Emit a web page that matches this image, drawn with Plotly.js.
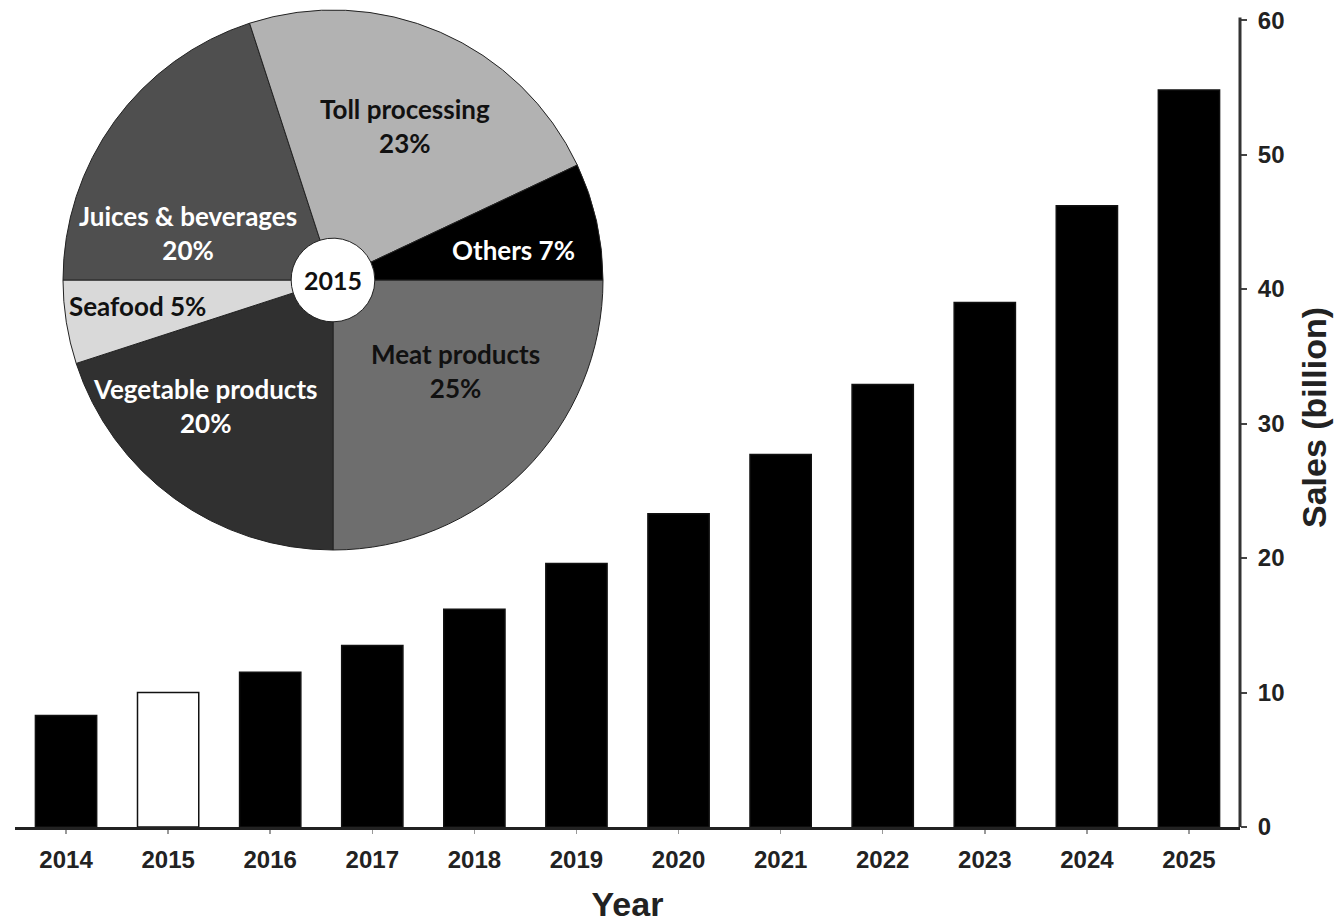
<!DOCTYPE html>
<html>
<head>
<meta charset="utf-8">
<script src="https://cdn.plot.ly/plotly-3.0.1.min.js"></script>
<style>html,body{margin:0;padding:0;background:#fff}#chart{width:1340px;height:923px}</style>
</head>
<body>
<div id="chart"></div>
<script>
// ---- data ----
const years = ["2014","2015","2016","2017","2018","2019","2020","2021","2022","2023","2024","2025"];
const sales = [8.3, 10.0, 11.5, 13.5, 16.2, 19.6, 23.3, 27.7, 32.9, 39.0, 46.2, 54.8];
const highlightYear = "2015";

const pieLabels = ["Meat products","Vegetable products","Seafood","Juices & beverages","Toll processing","Others"];
const pieShares = [25, 20, 5, 20, 23, 7];
const pieTitle = "2015";

// ---- styles ----
const pieColors = ["#6e6e6e","#303030","#d9d9d9","#4f4f4f","#b2b2b2","#000000"];
const pieTextColors = ["#111","#fff","#111","#fff","#111","#fff"];
const pieTwoLine = [true, true, false, true, true, false];
// label anchor positions in pixels (x, y) on the page
const pieLabelPos = [[455,371],[205,406],[137,306],[188,233],[405,126],[513,250]];

const W = 1340, H = 923;
const M = {l: 15, r: 100, t: 8, b: 96};
const pw = W - M.l - M.r, ph = H - M.t - M.b;
const toPX = px => (px - M.l) / pw;
const toPY = py => (H - M.b - py) / ph;

const fontFam = "Liberation Sans, Arial, sans-serif";
const pieFont = "Lato, Noto Sans, sans-serif";

const barTrace = {
  type: "bar",
  x: years,
  y: sales,
  marker: {
    color: years.map(y => y === highlightYear ? "#ffffff" : "#000000"),
    line: {color: "#111", width: 1.5}
  },
  hoverinfo: "x+y",
  showlegend: false
};

const pieTrace = {
  type: "pie",
  labels: pieLabels,
  values: pieShares,
  sort: false,
  direction: "clockwise",
  rotation: 90,
  hole: 0.155,
  textinfo: "none",
  marker: {colors: pieColors, line: {color: "#222", width: 1}},
  domain: {x: [toPX(63), toPX(603)], y: [toPY(552), 1]},
  title: {text: pieTitle, position: "middle center", font: {family: pieFont, size: 25, color: "#111", weight: "bold"}},
  showlegend: false
};

const annotations = pieLabels.map((lab, i) => ({
  xref: "paper", yref: "paper",
  x: toPX(pieLabelPos[i][0]), y: toPY(pieLabelPos[i][1]),
  xanchor: "center", yanchor: "middle",
  text: lab + (pieTwoLine[i] ? "<br>" : " ") + pieShares[i] + "%",
  showarrow: false,
  align: "center",
  font: {family: pieFont, size: 26, color: pieTextColors[i], weight: "bold"}
}));

const layout = {
  width: W, height: H,
  margin: M,
  paper_bgcolor: "#fff",
  plot_bgcolor: "#fff",
  bargap: 0.4,
  showlegend: false,
  xaxis: {
    type: "category",
    range: [-0.5, 11.5],
    showline: true, linewidth: 3, linecolor: "#222",
    ticks: "outside", ticklen: 4, tickwidth: 1.5, tickcolor: "#999",
    showgrid: false, zeroline: false,
    tickfont: {family: fontFam, size: 24, color: "#222", weight: "bold"},
    ticklabelstandoff: 5,
    title: {text: "Year", font: {family: fontFam, size: 34, color: "#222", weight: "bold"}, standoff: 24}
  },
  yaxis: {
    side: "right",
    range: [0, 60.9],
    tickvals: [0,10,20,30,40,50,60],
    showline: false,
    ticks: "outside", ticklen: 6, tickwidth: 2, tickcolor: "#444",
    showgrid: false, zeroline: false,
    tickfont: {family: fontFam, size: 24, color: "#222", weight: "bold"},
    ticklabelstandoff: 6,
    title: {text: "Sales (billion)", font: {family: fontFam, size: 34, color: "#222", weight: "bold"}, standoff: 18}
  },
  shapes: [{
    type: "line", xref: "paper", yref: "y",
    x0: 1, x1: 1, y0: 0, y1: 60.2,
    line: {color: "#333", width: 3}
  }],
  annotations: annotations
};

Plotly.newPlot("chart", [barTrace, pieTrace], layout, {staticPlot: true, displayModeBar: false});
</script>
</body>
</html>
